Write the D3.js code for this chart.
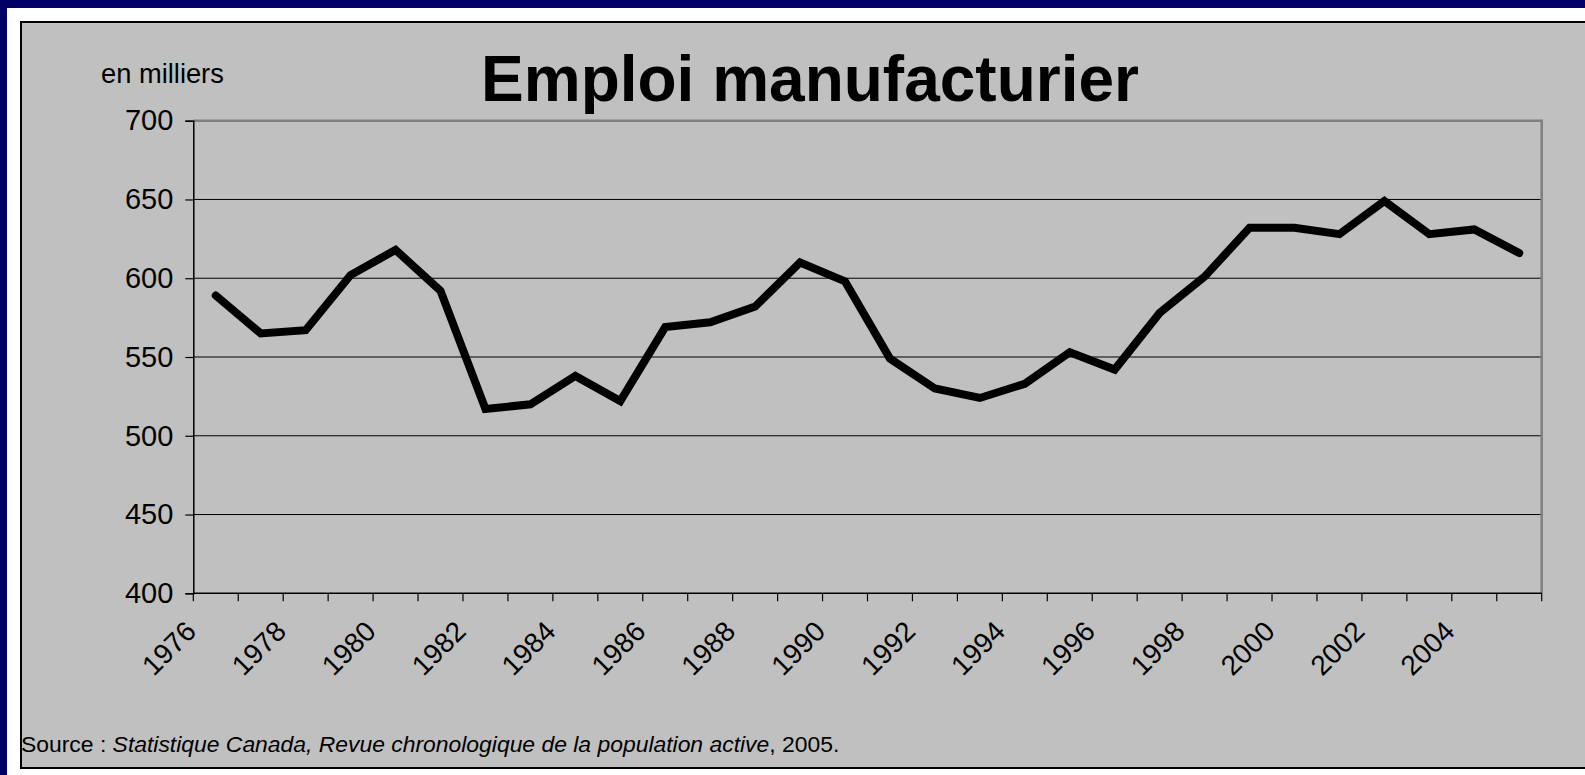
<!DOCTYPE html>
<html lang="fr">
<head>
  <meta charset="UTF-8">
  <title>Emploi manufacturier</title>
  <style>
    body {
      margin: 0;
      overflow: hidden;
      background: #000066;
    }
    svg text {
      font-family: Arial, "Liberation Sans", sans-serif;
      fill: #000;
    }
  </style>
</head>
<body>
  <svg></svg>
</body>
<script src="https://cdn.jsdelivr.net/npm/d3@7"></script>
<script>
  // données (en milliers)
  var years = d3.range(1976, 2006)
  var emploi = [589, 565, 567, 602, 618, 592, 517, 520, 538, 522,
                569, 572, 582, 610, 598, 549, 530, 524, 533, 553,
                542, 578, 601, 632, 632, 628, 649, 628, 631, 616]
  var yTicks = [400, 450, 500, 550, 600, 650, 700]
  var yearLabels = years.filter((d, i) => i % 2 == 0)

  var width = 1585
  var height = 775
  var pLeft = 193.3, pRight = 1541.7, pTop = 120.7, pBottom = 593.3

  var svg = d3.select('svg')
    .attr('width', width)
    .attr('height', height)

  // cadre blanc + zone grise
  svg.append('rect')
    .attr('x', 7).attr('y', 8)
    .attr('width', width).attr('height', height)
    .attr('fill', '#fff')

  svg.append('rect')
    .attr('x', 21).attr('y', 22)
    .attr('width', width).attr('height', 746)
    .attr('fill', '#c0c0c0')
    .attr('stroke', '#000')
    .attr('stroke-width', 2)

  var x = d3.scaleBand()
    .domain(years)
    .range([pLeft, pRight])

  var y = d3.scaleLinear()
    .domain([400, 700])
    .range([pBottom, pTop])

  // grille
  svg.append('g')
    .selectAll('line')
    .data(yTicks.filter(d => d > 400 && d < 700))
    .enter()
    .append('line')
    .attr('x1', pLeft).attr('x2', pRight)
    .attr('y1', d => y(d)).attr('y2', d => y(d))
    .attr('stroke', '#000')
    .attr('stroke-width', 1)

  // bord haut et droit (gris)
  svg.append('path')
    .attr('d', `M${pLeft},${pTop}H${pRight}V${pBottom}`)
    .attr('fill', 'none')
    .attr('stroke', '#808080')
    .attr('stroke-width', 2.5)

  // axe y
  var yAxis = d3.axisLeft(y)
    .tickValues(yTicks)
    .tickSize(8)
    .tickPadding(12)
    .tickFormat(d3.format('d'))

  var gy = svg.append('g')
    .attr('transform', `translate(${pLeft},0)`)
    .call(yAxis)
  gy.select('.domain').attr('stroke', '#000').attr('stroke-width', 1.5)
  gy.selectAll('.tick line').attr('stroke', '#000').attr('stroke-width', 1.2)
  gy.selectAll('.tick text')
    .attr('font-size', 29)
    .attr('font-family', 'Arial, "Liberation Sans", sans-serif')
    .attr('dy', '0.32em')

  // axe x : graduations entre les catégories
  var xTickPos = years.map(d => x(d)).concat([pRight])
  svg.append('line')
    .attr('x1', pLeft).attr('x2', pRight)
    .attr('y1', pBottom).attr('y2', pBottom)
    .attr('stroke', '#000')
    .attr('stroke-width', 1.5)

  svg.append('g')
    .selectAll('line')
    .data(xTickPos)
    .enter()
    .append('line')
    .attr('x1', d => d).attr('x2', d => d)
    .attr('y1', pBottom).attr('y2', pBottom + 8)
    .attr('stroke', '#000')
    .attr('stroke-width', 1.2)

  svg.append('g')
    .selectAll('text')
    .data(yearLabels)
    .enter()
    .append('text')
    .attr('transform', d => `translate(${x(d) + x.bandwidth() / 2 - 18},633) rotate(-45)`)
    .attr('text-anchor', 'end')
    .attr('font-size', 28)
    .text(d => d)

  // courbe
  var line = d3.line()
    .x((d, i) => x(years[i]) + x.bandwidth() / 2)
    .y(d => y(d))

  svg.append('path')
    .datum(emploi)
    .attr('d', line)
    .attr('fill', 'none')
    .attr('stroke', '#000')
    .attr('stroke-width', 8)
    .attr('stroke-linejoin', 'miter')
    .attr('stroke-miterlimit', 4)
    .attr('stroke-linecap', 'round')

  // textes
  svg.append('text')
    .attr('x', 810).attr('y', 101)
    .attr('text-anchor', 'middle')
    .attr('font-size', 64)
    .attr('font-weight', 'bold')
    .text('Emploi manufacturier')

  svg.append('text')
    .attr('x', 101).attr('y', 83)
    .attr('font-size', 27.3)
    .text('en milliers')

  var source = svg.append('text')
    .attr('x', 21).attr('y', 752)
    .attr('font-size', 22.9)
  source.append('tspan').text('Source : ')
  source.append('tspan').attr('font-style', 'italic')
    .text('Statistique Canada, Revue chronologique de la population active')
  source.append('tspan').text(', 2005.')
</script>
</html>
